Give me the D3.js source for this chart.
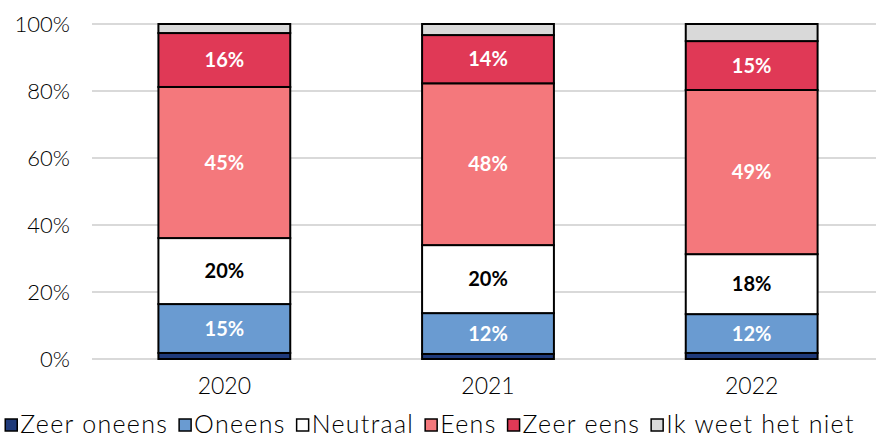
<!DOCTYPE html>
<html>
<head>
<meta charset="utf-8">
<style>
  *{margin:0;padding:0;box-sizing:border-box}
  body{background:#fff;width:876px;height:437px;overflow:hidden}
  svg{display:block}
  text{font-family:"Lato","Noto Sans",sans-serif}
</style>
</head>
<body>
<svg id="chart"></svg>
<script src="https://cdn.jsdelivr.net/npm/d3@7/dist/d3.min.js"></script>
<script>
// data (percent of respondents)
const years = ['2020', '2021', '2022'];
const categories = ['Zeer oneens', 'Oneens', 'Neutraal', 'Eens', 'Zeer eens', 'Ik weet het niet'];
const zeerOneens = [1.8, 1.5, 1.8];
const oneens     = [14.6, 12.2, 11.6];
const neutraal   = [19.7, 20.3, 17.9];
const eens       = [45.1, 48.3, 49.0];
const zeerEens   = [16.1, 14.4, 14.6];
const weetNiet   = [2.7, 3.3, 5.1];
const yTicks = [0, 20, 40, 60, 80, 100];

const COLORS = ['#1F3A7A', '#6A9BD1', '#FFFFFF', '#F4787C', '#E03956', '#D9D9D9'];
const LABEL_COL = ['#fff', '#fff', '#000', '#fff', '#fff', '#000'];
const SHOW_LABEL = [false, true, true, true, true, false];

const W = 876, H = 437;
const series = [zeerOneens, oneens, neutraal, eens, zeerEens, weetNiet];
const rows = years.map((y, i) => {
  const r = {year: y};
  categories.forEach((c, k) => r[c] = series[k][i]);
  return r;
});

const svg = d3.select('#chart').attr('width', W).attr('height', H);

const x = d3.scaleBand().domain(years).range([92.5, 883.5]).paddingInner(0.5).paddingOuter(0.25);
const y = d3.scaleLinear().domain([0, 100]).range([359, 24]);

// gridlines
svg.append('g').selectAll('line').data(yTicks).enter().append('line')
  .attr('x1', 92).attr('x2', W)
  .attr('y1', d => y(d)).attr('y2', d => y(d))
  .attr('stroke', '#D9D9D9').attr('stroke-width', 2);

// y axis labels
const yAxis = svg.append('g').attr('transform', 'translate(92,0)')
  .call(d3.axisLeft(y).tickValues(yTicks).tickFormat(d => d + '%').tickSize(0).tickPadding(22));
yAxis.select('.domain').remove();
yAxis.selectAll('text').attr('font-size', 22).attr('font-weight', 300).attr('fill', '#000')
  .attr('font-family', '"Lato","Noto Sans",sans-serif');

// x axis labels
const xAxis = svg.append('g').attr('transform', 'translate(0,359)')
  .call(d3.axisBottom(x).tickSize(0).tickPadding(19));
xAxis.select('.domain').remove();
xAxis.selectAll('text').attr('font-size', 23).attr('font-weight', 300).attr('fill', '#000')
  .attr('font-family', '"Lato","Noto Sans",sans-serif');

// stacked bars
const stack = d3.stack().keys(categories)(rows);
const layers = svg.append('g').selectAll('g').data(stack).enter().append('g')
  .attr('fill', (d, k) => COLORS[k]);
layers.selectAll('rect').data(d => d).enter().append('rect')
  .attr('x', d => x(d.data.year))
  .attr('width', x.bandwidth())
  .attr('y', d => y(d[1]))
  .attr('height', d => y(d[0]) - y(d[1]))
  .attr('stroke', '#000').attr('stroke-width', 2);

// value labels
stack.forEach((layer, k) => {
  if (!SHOW_LABEL[k]) return;
  svg.append('g').selectAll('text').data(layer).enter().append('text')
    .attr('x', d => x(d.data.year) + x.bandwidth() / 2)
    .attr('y', d => (y(d[0]) + y(d[1])) / 2)
    .attr('dy', '0.36em')
    .attr('text-anchor', 'middle')
    .attr('font-size', 20).attr('font-weight', 700)
    .attr('fill', LABEL_COL[k])
    .text(d => Math.round(d[1] - d[0]) + '%');
});

// legend
const leg = svg.append('g');
const items = leg.selectAll('g').data(categories).enter().append('g');
items.append('rect').attr('width', 12).attr('height', 12).attr('y', -14)
  .attr('fill', (d, k) => COLORS[k]).attr('stroke', '#000').attr('stroke-width', 1.5);
items.append('text').attr('x', 15).attr('y', 0).attr('font-size', 25).attr('font-weight', 300)
  .attr('letter-spacing', 1.3).attr('fill', '#000').text(d => d);
let cx = 0;
items.each(function() {
  d3.select(this).attr('transform', `translate(${cx},0)`);
  cx += this.getBBox().width + 11;
});
cx -= 11;
leg.attr('transform', `translate(${430 - cx / 2},433)`);
</script>
</body>
</html>
